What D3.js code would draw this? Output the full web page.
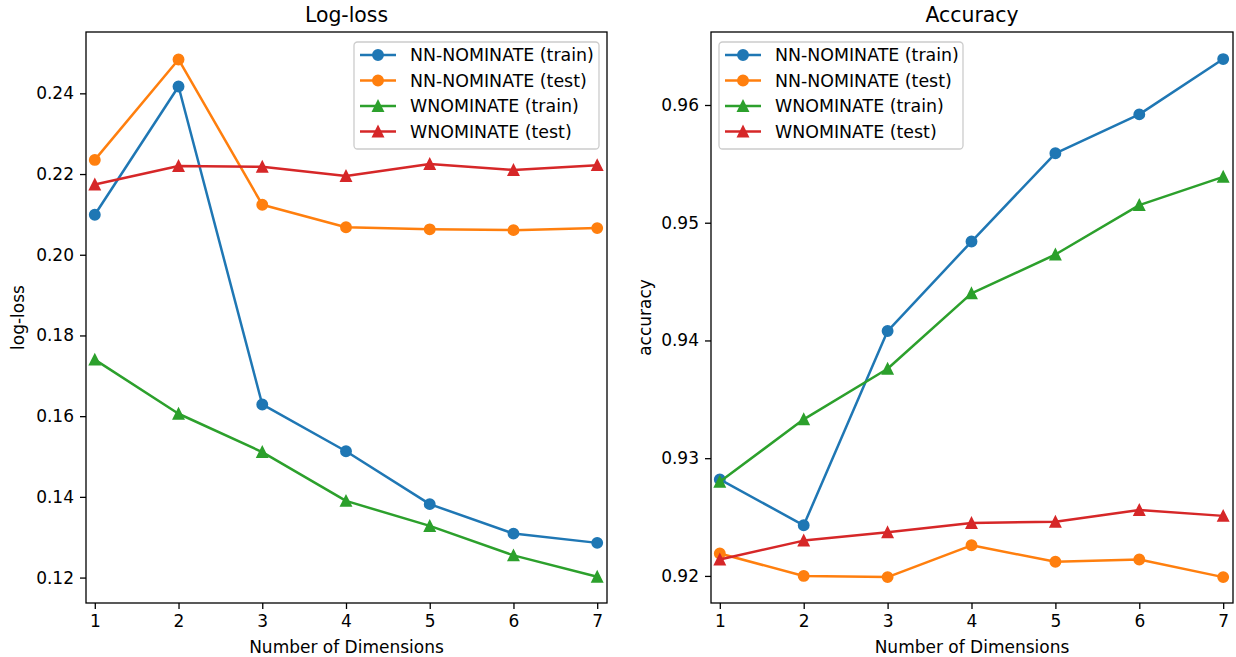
<!DOCTYPE html>
<html>
<head>
<meta charset="utf-8">
<script src="https://cdn.jsdelivr.net/npm/d3@7"></script>
<style>
  body { margin: 0; background: #fff; }
  svg { display: block; font-family: "DejaVu Sans", sans-serif; }
  .tick text { fill: #000; }
</style>
</head>
<body>
<svg id="chart" width="1236" height="657"></svg>
<script>
// number of dimensions on the x axis
const dims = [1, 2, 3, 4, 5, 6, 7];

// log-loss values
const nnTrainLoss = [0.2099, 0.2417, 0.1629, 0.1513, 0.1382, 0.1309, 0.1286];
const nnTestLoss  = [0.2235, 0.2484, 0.2124, 0.2068, 0.2063, 0.2061, 0.2066];
const wTrainLoss  = [0.1740, 0.1606, 0.1511, 0.1390, 0.1328, 0.1255, 0.1202];
const wTestLoss   = [0.2174, 0.2220, 0.2218, 0.2195, 0.2225, 0.2210, 0.2222];

// accuracy values
const nnTrainAcc = [0.9282, 0.9243, 0.9408, 0.9484, 0.9559, 0.9592, 0.9639];
const nnTestAcc  = [0.9219, 0.9200, 0.9199, 0.9226, 0.9212, 0.9214, 0.9199];
const wTrainAcc  = [0.9280, 0.9333, 0.9376, 0.9440, 0.9473, 0.9515, 0.9539];
const wTestAcc   = [0.9214, 0.9230, 0.9237, 0.9245, 0.9246, 0.9256, 0.9251];

const seriesNames = ["NN-NOMINATE (train)", "NN-NOMINATE (test)", "WNOMINATE (train)", "WNOMINATE (test)"];
const seriesColors = ["#1f77b4", "#ff7f0e", "#2ca02c", "#d62728"];
const seriesMarkers = ["circle", "circle", "triangle", "triangle"];

const lossTicks = [0.12, 0.14, 0.16, 0.18, 0.20, 0.22, 0.24];
const accTicks = [0.92, 0.93, 0.94, 0.95, 0.96];

const svg = d3.select('#chart');
const plotTop = 32, plotBottom = 603;

function marker(g, type, x, y, color) {
    if (type === "circle") {
        g.append('circle')
            .attr('cx', x).attr('cy', y).attr('r', 5.1)
            .attr('fill', color).attr('stroke', color).attr('stroke-width', 1.7);
    } else {
        const s = 5.1;
        g.append('path')
            .attr('d', `M${x},${y - s}L${x + s},${y + s}L${x - s},${y + s}Z`)
            .attr('fill', color).attr('stroke', color).attr('stroke-width', 1.7)
            .attr('stroke-linejoin', 'miter');
    }
}

function drawPanel(opts) {
    const x = d3.scaleLinear().domain([0.895, 7.117]).range([opts.left, opts.right]);
    const y = d3.scaleLinear().domain(opts.yDomain).range([plotBottom, plotTop]);
    const g = svg.append('g');

    // lines and markers
    opts.series.forEach((vals, i) => {
        const line = d3.line().x((d, j) => x(dims[j])).y(d => y(d));
        g.append('path')
            .datum(vals)
            .attr('d', line)
            .attr('fill', 'none')
            .attr('stroke', seriesColors[i])
            .attr('stroke-width', 2.5)
            .attr('stroke-linejoin', 'round');
        vals.forEach((v, j) => marker(g, seriesMarkers[i], x(dims[j]), y(v), seriesColors[i]));
    });

    // axes
    const xAxis = g.append('g')
        .attr('transform', `translate(0,${plotBottom})`)
        .call(d3.axisBottom(x).tickValues(dims).tickSize(6).tickPadding(6).tickFormat(d3.format('d')));
    const yAxis = g.append('g')
        .attr('transform', `translate(${opts.left},0)`)
        .call(d3.axisLeft(y).tickValues(opts.ticks).tickSize(6).tickPadding(6).tickFormat(opts.fmt));
    [xAxis, yAxis].forEach(a => {
        a.select('.domain').remove();
        a.selectAll('.tick line').attr('stroke', '#000').attr('stroke-width', 1.3);
        a.selectAll('.tick text').attr('font-size', 17).attr('font-family', '"DejaVu Sans"');
    });

    // frame
    g.append('rect')
        .attr('x', opts.left).attr('y', plotTop)
        .attr('width', opts.right - opts.left).attr('height', plotBottom - plotTop)
        .attr('fill', 'none').attr('stroke', '#000').attr('stroke-width', 1.3);

    // titles
    g.append('text')
        .attr('x', (opts.left + opts.right) / 2).attr('y', 22)
        .attr('text-anchor', 'middle').attr('font-size', 20.4)
        .text(opts.title);
    g.append('text')
        .attr('x', (opts.left + opts.right) / 2).attr('y', 653)
        .attr('text-anchor', 'middle').attr('font-size', 17)
        .text('Number of Dimensions');
    g.append('text')
        .attr('transform', `translate(${opts.ylabelX},${(plotTop + plotBottom) / 2}) rotate(-90)`)
        .attr('text-anchor', 'middle').attr('font-size', 17)
        .text(opts.ylabel);

    // legend
    const lg = g.append('g');
    lg.append('rect')
        .attr('x', opts.legX).attr('y', 42)
        .attr('width', opts.legW).attr('height', 107)
        .attr('rx', 3.5)
        .attr('fill', 'rgba(255,255,255,0.8)')
        .attr('stroke', '#cccccc').attr('stroke-width', 1.3);
    seriesNames.forEach((name, i) => {
        const cy = 55 + i * 25.5;
        lg.append('line')
            .attr('x1', opts.legX + 6).attr('x2', opts.legX + 42)
            .attr('y1', cy).attr('y2', cy)
            .attr('stroke', seriesColors[i]).attr('stroke-width', 2.5);
        marker(lg, seriesMarkers[i], opts.legX + 24, cy, seriesColors[i]);
        lg.append('text')
            .attr('x', opts.legX + 56).attr('y', cy + 6)
            .attr('font-size', 17.4)
            .text(name);
    });
}

drawPanel({
    left: 86, right: 607,
    yDomain: [0.1137, 0.2552],
    ticks: lossTicks, fmt: d3.format('.2f'),
    series: [nnTrainLoss, nnTestLoss, wTrainLoss, wTestLoss],
    title: 'Log-loss', ylabel: 'log-loss', ylabelX: 24,
    legX: 354, legW: 245
});

drawPanel({
    left: 711, right: 1233,
    yDomain: [0.9177, 0.9662],
    ticks: accTicks, fmt: d3.format('.2f'),
    series: [nnTrainAcc, nnTestAcc, wTrainAcc, wTestAcc],
    title: 'Accuracy', ylabel: 'accuracy', ylabelX: 651,
    legX: 719, legW: 244
});
</script>
</body>
</html>
